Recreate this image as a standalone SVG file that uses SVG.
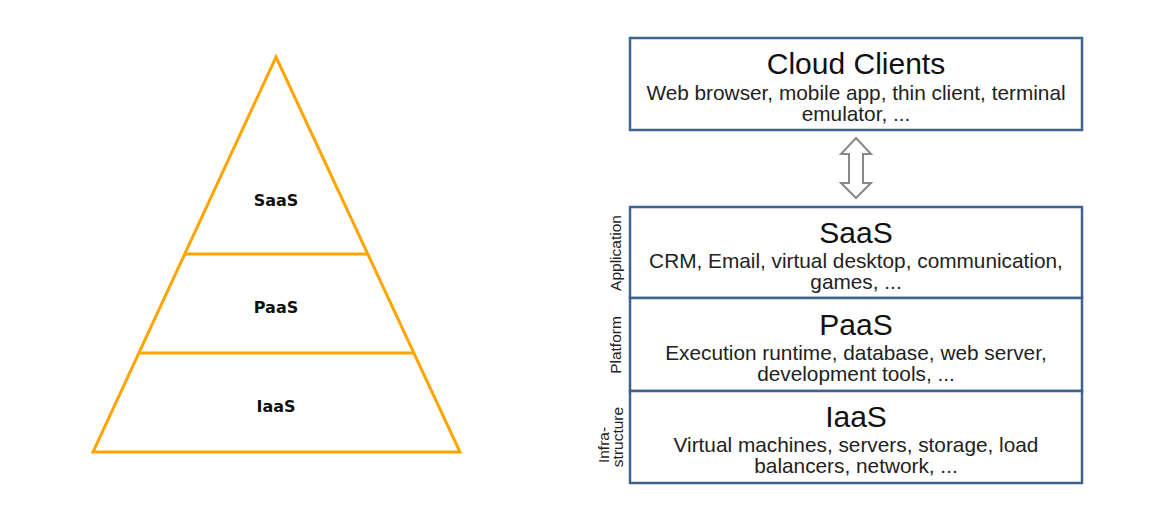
<svg xmlns="http://www.w3.org/2000/svg" width="1170" height="506" viewBox="0 0 1170 506">
<style>
.pyr{fill:none;stroke:#FFA500;stroke-width:3;stroke-linejoin:miter}
.pl{font-family:"DejaVu Sans",sans-serif;font-weight:bold;font-size:16px;fill:#111;text-anchor:middle}
.box{fill:#fff;stroke:#41618F;stroke-width:2.5}
.t{font-family:"Liberation Sans",Arial,sans-serif;font-size:30px;fill:#111;text-anchor:middle}
.s{font-family:"Liberation Sans",Arial,sans-serif;font-size:20.8px;fill:#222;text-anchor:middle}
.side{font-family:"Liberation Sans",Arial,sans-serif;font-size:15.5px;fill:#222;text-anchor:middle}
.arr{fill:#fff;stroke:#888;stroke-width:2;stroke-linejoin:miter}
</style>
<g id="pyramid">
<polygon class="pyr" points="276,57 460,452 93,452"/>
<line class="pyr" x1="185" y1="254" x2="367" y2="254"/>
<line class="pyr" x1="139" y1="353" x2="413" y2="353"/>
<text class="pl" x="276" y="206">SaaS</text>
<text class="pl" x="276" y="313">PaaS</text>
<text class="pl" x="276" y="412">IaaS</text>
</g>
<g id="cloud-clients">
<rect class="box" x="630" y="38" width="452" height="92"/>
<text class="t" x="856" y="74">Cloud Clients</text>
<text class="s" x="856" y="100">Web browser, mobile app, thin client, terminal</text>
<text class="s" x="856" y="121">emulator, ...</text>
</g>
<g id="connectors">
<polygon class="arr" points="856,138 871,154 863,154 863,183 871,183 856,198 841,183 849,183 849,154 841,154"/>
</g>
<g id="saas">
<rect class="box" x="630" y="207" width="452" height="91"/>
<text class="t" x="856" y="243">SaaS</text>
<text class="s" x="856" y="268">CRM, Email, virtual desktop, communication,</text>
<text class="s" x="856" y="289">games, ...</text>
<text class="side" transform="translate(621,253) rotate(-90)">Application</text>
</g>
<g id="paas">
<rect class="box" x="630" y="298" width="452" height="93"/>
<text class="t" x="856" y="335">PaaS</text>
<text class="s" x="856" y="360">Execution runtime, database, web server,</text>
<text class="s" x="856" y="381">development tools, ...</text>
<text class="side" transform="translate(621,345) rotate(-90)">Platform</text>
</g>
<g id="iaas">
<rect class="box" x="630" y="391" width="452" height="92"/>
<text class="t" x="856" y="427">IaaS</text>
<text class="s" x="856" y="452">Virtual machines, servers, storage, load</text>
<text class="s" x="856" y="473">balancers, network, ...</text>
<text class="side" transform="translate(609,445) rotate(-90)">Infra-</text>
<text class="side" transform="translate(623,437) rotate(-90)">structure</text>
</g>
</svg>
